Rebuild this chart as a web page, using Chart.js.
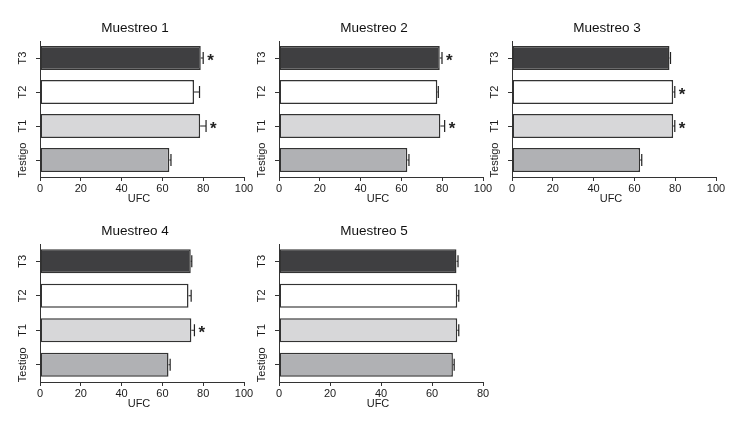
<!DOCTYPE html>
<html>
<head>
<meta charset="utf-8">
<script src="https://cdn.jsdelivr.net/npm/chart.js@4/dist/chart.umd.min.js"></script>
<style>
  body { margin: 0; background: #fff; }
  #wrap { position: relative; width: 735px; height: 429px; }
  canvas { position: absolute; }
</style>
</head>
<body>
<div id="wrap">
  <canvas id="c1" width="259" height="210" style="left:0px;top:0px"></canvas>
  <canvas id="c2" width="259" height="210" style="left:239px;top:0px"></canvas>
  <canvas id="c3" width="259" height="210" style="left:472px;top:0px"></canvas>
  <canvas id="c4" width="259" height="212" style="left:0px;top:203px"></canvas>
  <canvas id="c5" width="259" height="212" style="left:239px;top:203px"></canvas>
</div>
<script>
// categories, bottom to top
const categorias = ['Testigo', 'T1', 'T2', 'T3'];
const colores = ['#b0b1b4', '#d7d7d9', '#ffffff', '#3f3f41'];

// UFC means per sampling (Testigo, T1, T2, T3)
const muestreo1 = [63.4, 78.5, 75.5, 78.8];
const muestreo2 = [62.9, 79.1, 77.6, 78.8];
const muestreo3 = [62.8, 79.0, 79.0, 77.2];
const muestreo4 = [63.0, 74.2, 72.8, 73.9];
const muestreo5 = [68.2, 69.9, 69.9, 69.6];

// error bar sizes
const error1 = [0.8, 2.9, 2.7, 1.2];
const error2 = [0.8, 2.1, 0.5, 1.1];
const error3 = [0.8, 0.8, 0.8, 0.5];
const error4 = [0.8, 1.5, 1.3, 0.5];
const error5 = [0.5, 0.6, 0.6, 0.6];

// significance marks
const signif1 = [false, true, false, true];
const signif2 = [false, true, false, true];
const signif3 = [false, true, true, false];
const signif4 = [false, true, false, false];
const signif5 = [false, false, false, false];

const titulos = ['Muestreo 1', 'Muestreo 2', 'Muestreo 3', 'Muestreo 4', 'Muestreo 5'];
const maximos = [100, 100, 100, 100, 80];

const TEXT = '#1a1a1a';
const AXIS = '#333333';
const FONT = "'Liberation Sans', Arial, sans-serif";

// draws error bars, asterisks, rotated y labels, title and x title
const extras = {
  id: 'extras',
  afterDatasetsDraw(chart) {
    const ctx = chart.ctx;
    const x = chart.scales.x, y = chart.scales.y;
    const ds = chart.data.datasets[0];
    ctx.save();
    ctx.strokeStyle = '#222';
    ctx.lineWidth = 1.2;
    ds.data.forEach(function (v, i) {
      const py = y.getPixelForValue(i);
      const x0 = x.getPixelForValue(v);
      const x1 = x.getPixelForValue(v + ds.errores[i]);
      ctx.beginPath();
      ctx.moveTo(x0, py);
      ctx.lineTo(x1, py);
      ctx.moveTo(x1, py - 6);
      ctx.lineTo(x1, py + 6);
      ctx.stroke();
      if (ds.signif[i]) {
        ctx.fillStyle = '#222';
        ctx.font = 'bold 17px ' + FONT;
        ctx.textAlign = 'left';
        ctx.textBaseline = 'middle';
        ctx.fillText('*', x1 + 4, py + 3);
      }
    });
    ctx.restore();
  },
  afterDraw(chart) {
    const ctx = chart.ctx;
    const a = chart.chartArea;
    const y = chart.scales.y;
    ctx.save();
    ctx.fillStyle = TEXT;
    // y tick labels, rotated
    ctx.font = '11px ' + FONT;
    ctx.textAlign = 'center';
    ctx.textBaseline = 'middle';
    y.ticks.forEach(function (t, i) {
      const py = y.getPixelForTick(i);
      ctx.save();
      ctx.translate(a.left - 17, py);
      ctx.rotate(-Math.PI / 2);
      ctx.fillText(y.getLabelForValue(t.value), 0, 0);
      ctx.restore();
    });
    // x title
    ctx.fillText('UFC', (a.left + a.right) / 2 - 3, a.bottom + 22);
    // title
    ctx.font = '13.5px ' + FONT;
    ctx.fillStyle = '#111';
    ctx.fillText(chart.options.titulo, (a.left + a.right) / 2 - 7, a.top - 13);
    ctx.restore();
  }
};

function hacerGrafico(id, titulo, valores, errores, signif, maximo) {
  return new Chart(document.getElementById(id), {
    type: 'bar',
    data: {
      labels: categorias,
      datasets: [{
        data: valores,
        errores: errores,
        signif: signif,
        backgroundColor: colores,
        borderColor: AXIS,
        borderWidth: 1.5,
        borderSkipped: false,
        barPercentage: 0.7,
        categoryPercentage: 1
      }]
    },
    options: {
      titulo: titulo,
      indexAxis: 'y',
      responsive: false,
      animation: false,
      devicePixelRatio: 1,
      layout: { padding: { left: 0, top: 41, right: 15, bottom: 0 } },
      plugins: { legend: { display: false }, tooltip: { enabled: false }, title: { display: false } },
      scales: {
        x: {
          min: 0, max: maximo,
          ticks: { stepSize: 20, color: TEXT, font: { family: FONT, size: 11 }, padding: 1, maxRotation: 0 },
          grid: { drawOnChartArea: false, drawTicks: true, tickLength: 4, color: AXIS },
          border: { display: true, color: AXIS, width: 1 },
          afterFit: function (s) { s.height = 33; }
        },
        y: {
          reverse: true,
          ticks: { display: false },
          grid: { drawOnChartArea: false, drawTicks: true, tickLength: 4, color: AXIS, offset: false },
          border: { display: true, color: AXIS, width: 1 },
          afterFit: function (s) { s.width = 40; }
        }
      }
    },
    plugins: [extras]
  });
}

hacerGrafico('c1', titulos[0], muestreo1, error1, signif1, maximos[0]);
hacerGrafico('c2', titulos[1], muestreo2, error2, signif2, maximos[1]);
hacerGrafico('c3', titulos[2], muestreo3, error3, signif3, maximos[2]);
hacerGrafico('c4', titulos[3], muestreo4, error4, signif4, maximos[3]);
hacerGrafico('c5', titulos[4], muestreo5, error5, signif5, maximos[4]);
</script>
</body>
</html>
